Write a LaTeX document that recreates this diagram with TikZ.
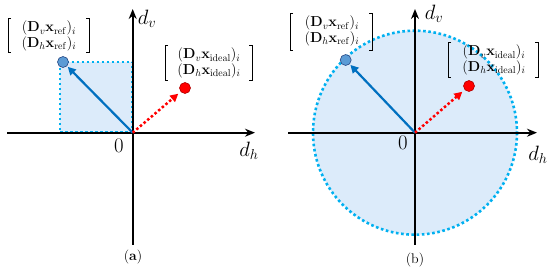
\documentclass[tikz,border=0pt]{standalone}
\usepackage{amsmath}
\usetikzlibrary{arrows.meta}
\definecolor{refblue}{RGB}{0,112,192}
\definecolor{dotcyan}{RGB}{0,176,240}
\definecolor{regfill}{RGB}{220,235,250}
\definecolor{ptfill}{RGB}{91,155,213}
\definecolor{ptdraw}{RGB}{40,70,130}
\definecolor{idealred}{RGB}{255,0,0}
\tikzset{
  axis/.style={line width=2.2pt,-{Stealth[length=10pt,width=8pt]}},
  region/.style={fill=regfill,draw=dotcyan,line width=2.6pt,dash pattern=on 2.6pt off 2.4pt},
  refpt/.style={circle,fill=ptfill,draw=ptdraw,line width=0.6pt,minimum size=11pt,inner sep=0pt},
  idealpt/.style={circle,fill=idealred,draw=red!70!black,line width=0.6pt,minimum size=11pt,inner sep=0pt},
  refarrow/.style={draw=refblue,line width=2.2pt,-{Triangle[length=8pt,width=8pt]},shorten >=1pt},
  idealarrow/.style={draw=idealred,line width=2.5pt,dash pattern=on 2.5pt off 2.3pt,-{Triangle[length=8pt,width=8pt]},shorten >=3pt},
  axlabel/.style={font=\fontsize{20}{24}\selectfont,inner sep=0pt},
  zerolab/.style={font=\fontsize{20}{24}\selectfont,inner sep=0pt},
  vec/.style={font=\fontsize{14.5}{15.5}\selectfont,align=center,inner sep=0pt},
  brk/.style={line width=0.8pt},
  captxt/.style={font=\fontsize{14}{16}\selectfont,inner sep=0pt}
}
\newcommand{\bracketbox}[4]{% x1 x2 y1 y2
  \draw[brk] (#1+3,#3) -- (#1,#3) -- (#1,#4) -- (#1+3,#4);
  \draw[brk] (#2-3,#3) -- (#2,#3) -- (#2,#4) -- (#2-3,#4);
}
\begin{document}
\begin{tikzpicture}[x=1pt,y=-1pt]
\useasboundingbox (0,0) rectangle (550,272);
% ---------- panel (a) ----------
\coordinate (Oa) at (132.7,132.7);
\fill[regfill] (60,62) rectangle (Oa);
\draw[region,fill=none] (Oa) -- (60,132.7) -- (60,62) -- (132.7,62) -- cycle;
\draw[axis] (7,132.7) -- (255,132.7);
\draw[axis] (132.7,245) -- (132.7,9);
\node[axlabel] (dva) at (147,19) {$d_v$};
\node[axlabel] (dha) at (249,151) {$d_h$};
\node[zerolab] (za) at (119,146) {$0$};
\node[refpt] (ra) at (63,62) {};
\node[idealpt] (ia) at (185,88) {};
\draw[refarrow] (Oa) -- (ra);
\draw[idealarrow] (Oa) -- (ia);
\node[vec] (vra) at (49,36) {$(\mathbf{D}_v\mathbf{x}_{\mathrm{ref}})_i$\\$(\mathbf{D}_h\mathbf{x}_{\mathrm{ref}})_i$};
\bracketbox{8}{89}{18}{52}
\node[vec] (via) at (209,63) {$(\mathbf{D}_v\mathbf{x}_{\mathrm{ideal}})_i$\\$(\mathbf{D}_h\mathbf{x}_{\mathrm{ideal}})_i$};
\bracketbox{165}{252}{45}{80}
\node[captxt] (capa) at (133,257) {(\textbf{a})};
% ---------- panel (b) ----------
\coordinate (Ob) at (415,132.7);
\fill[regfill] (Ob) circle[radius=102];
\draw[draw=dotcyan,line width=2.6pt,dash pattern=on 2.6pt off 2.6pt] (Ob) circle[radius=102];
\draw[axis] (288,132.7) -- (537,132.7);
\draw[axis] (415,245) -- (415,9);
\node[axlabel] (dvb) at (434,14) {$d_v$};
\node[axlabel] (dhb) at (538,155) {$d_h$};
\node[zerolab] (zb) at (403,143) {$0$};
\node[refpt] (rb) at (345.7,60) {};
\node[idealpt] (ib) at (469,86) {};
\draw[refarrow] (Ob) -- (rb);
\draw[idealarrow] (Ob) -- (ib);
\node[vec] (vrb) at (332,31) {$(\mathbf{D}_v\mathbf{x}_{\mathrm{ref}})_i$\\$(\mathbf{D}_h\mathbf{x}_{\mathrm{ref}})_i$};
\bracketbox{290}{372}{13}{50}
\node[vec] (vib) at (494,60) {$(\mathbf{D}_v\mathbf{x}_{\mathrm{ideal}})_i$\\$(\mathbf{D}_h\mathbf{x}_{\mathrm{ideal}})_i$};
\bracketbox{448}{538}{42}{77}
\node[captxt] (capb) at (415,260) {(b)};
\end{tikzpicture}
\end{document}
